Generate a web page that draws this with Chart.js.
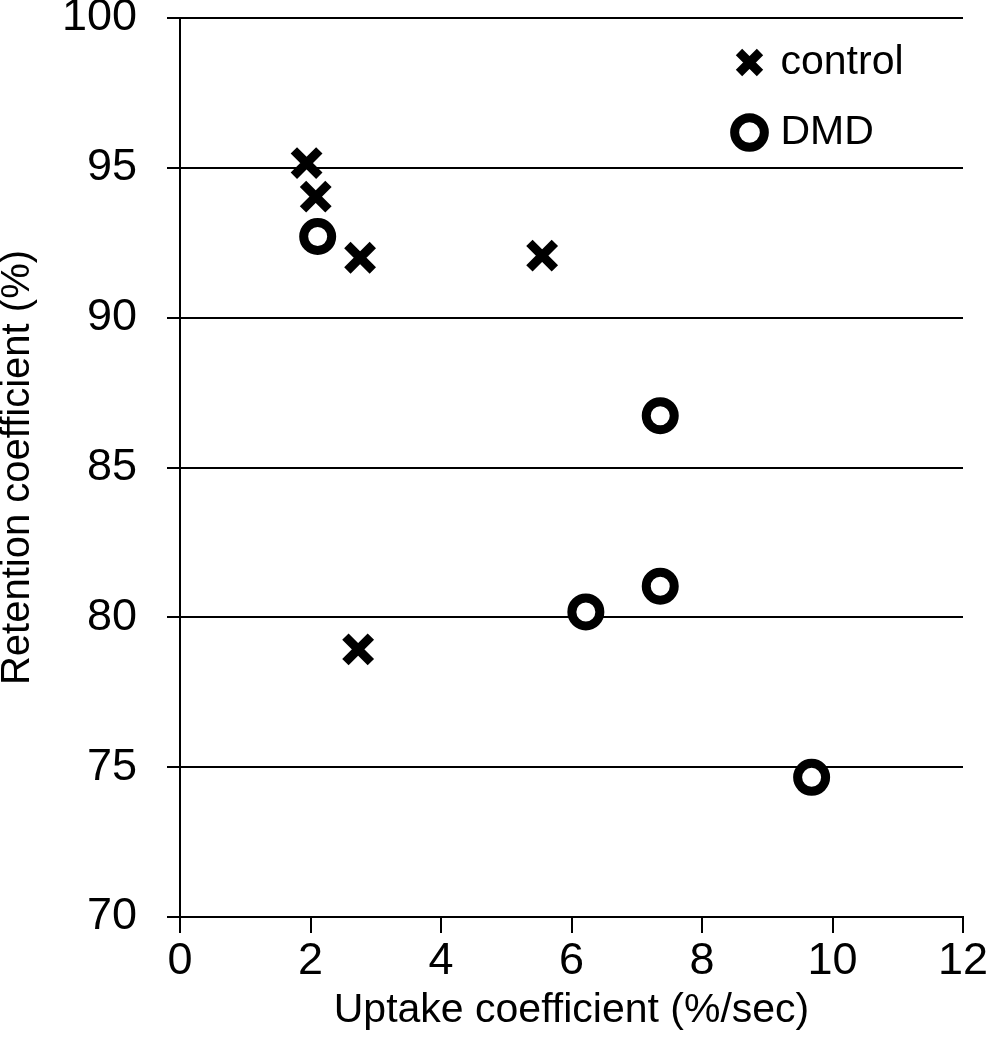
<!DOCTYPE html>
<html>
<head>
<meta charset="utf-8">
<script src="https://cdn.jsdelivr.net/npm/chart.js@4.4.1/dist/chart.umd.min.js"></script>
<style>
  body { margin: 0; background: #fff; }
</style>
</head>
<body>
<canvas id="myScatterChart" width="989" height="1050"></canvas>
<script>
// values
var controlX = [1.94, 2.08, 2.76, 5.55, 2.73];
var controlY = [95.16, 94.04, 92.0, 92.07, 78.93];
var dmdX = [2.11, 7.36, 7.36, 6.22, 9.68];
var dmdY = [92.71, 86.73, 81.04, 80.18, 74.66];
var xTicks = [0, 2, 4, 6, 8, 10, 12];
var yTicks = [70, 75, 80, 85, 90, 95, 100];

function toPoints(xs, ys) {
    return xs.map(function (x, i) { return {x: x, y: ys[i]}; });
}

Chart.defaults.font.family = "'Liberation Sans', Arial, sans-serif";
Chart.defaults.color = '#000';

// legend sits in the top right corner of the plot
var moveLegend = {
    id: 'moveLegend',
    afterLayout: function (chart) {
        var lg = chart.legend;
        lg.left = 710;
        lg.top = 13;
        lg.right = lg.left + 275;
        lg.bottom = lg.top + 180;
    }
};

var ctx = document.getElementById('myScatterChart').getContext('2d');
var myScatterChart = new Chart(ctx, {
    type: 'scatter',
    data: {
        datasets: [{
            label: 'control',
            data: toPoints(controlX, controlY),
            pointStyle: 'crossRot',
            pointRadius: 18,
            pointBorderWidth: 9,
            borderColor: '#000',
            backgroundColor: '#000'
        }, {
            label: 'DMD',
            data: toPoints(dmdX, dmdY),
            pointStyle: 'circle',
            pointRadius: 14,
            pointBorderWidth: 9,
            borderColor: '#000',
            backgroundColor: '#fff'
        }]
    },
    options: {
        responsive: false,
        animation: false,
        layout: {
            autoPadding: false,
            padding: {top: 18, right: 26, bottom: 0, left: 0}
        },
        plugins: {
            tooltip: {enabled: false},
            legend: {
                position: 'chartArea',
                align: 'start',
                labels: {
                    usePointStyle: true,
                    boxWidth: 21,
                    boxHeight: 21,
                    padding: 29,
                    color: '#000',
                    font: {size: 41}
                }
            }
        },
        scales: {
            x: {
                type: 'linear',
                min: xTicks[0],
                max: xTicks[xTicks.length - 1],
                ticks: {
                    stepSize: xTicks[1] - xTicks[0],
                    font: {size: 45},
                    color: '#000',
                    padding: 2
                },
                grid: {
                    drawOnChartArea: false,
                    tickLength: 16,
                    color: '#000',
                    lineWidth: 2
                },
                border: {color: '#000', width: 2},
                title: {
                    display: true,
                    text: 'Uptake coefficient (%/sec)',
                    font: {size: 41},
                    color: '#000',
                    padding: {top: 0, bottom: 15}
                },
                afterFit: function (s) {
                    s.height = 133;
                    s.paddingLeft = 0;
                    s.paddingRight = 0;
                }
            },
            y: {
                min: yTicks[0],
                max: yTicks[yTicks.length - 1],
                ticks: {
                    stepSize: yTicks[1] - yTicks[0],
                    font: {size: 45, lineHeight: 0.6},
                    color: '#000',
                    padding: 30
                },
                grid: {
                    color: '#000',
                    lineWidth: 2,
                    tickLength: 13
                },
                border: {color: '#000', width: 2},
                title: {
                    display: true,
                    text: 'Retention coefficient (%)',
                    font: {size: 40, lineHeight: 0.875},
                    color: '#000',
                    padding: 0
                },
                afterFit: function (s) {
                    s.width = 180;
                    s.paddingTop = 0;
                    s.paddingBottom = 0;
                }
            }
        }
    },
    plugins: [moveLegend]
});
</script>
</body>
</html>
